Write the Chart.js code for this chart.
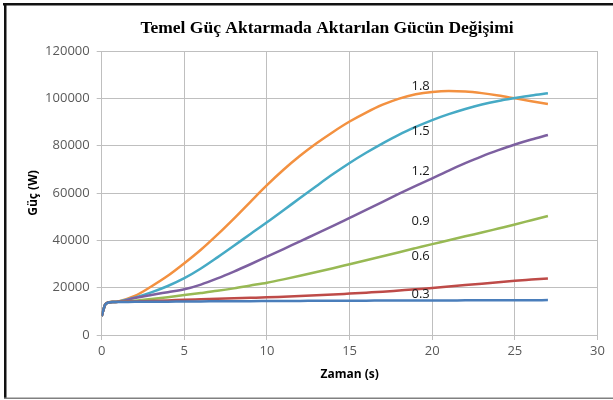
<!DOCTYPE html>
<html>
<head>
<meta charset="utf-8">
<script src="https://cdn.jsdelivr.net/npm/chart.js@4"></script>
<style>
  html, body { margin: 0; padding: 0; background: #fff; }
  #wrap { position: relative; width: 613px; height: 400px; }
</style>
</head>
<body>
<div id="wrap"><canvas id="c"></canvas></div>
<script>
// Chart title
const chartTitle = 'Temel Güç Aktarmada Aktarılan Gücün Değişimi';

// Time (s)
const time = [0, 0.1, 0.2, 0.4, 0.7, 1, 2, 3, 4, 5, 6, 7, 8, 9, 10, 11, 12, 13, 14, 15, 16, 17, 18, 19, 20, 21, 22, 23, 24, 25, 26, 27];

// Power (W) per series
const p03 = [8000, 10500, 12700, 13700, 13900, 13900, 14000, 14050, 14100, 14150, 14200, 14250, 14300, 14300, 14350, 14400, 14400, 14450, 14450, 14500, 14500, 14550, 14550, 14600, 14600, 14600, 14650, 14650, 14700, 14700, 14700, 14750];
const p06 = [8000, 10500, 12700, 13700, 13950, 14000, 14200, 14400, 14600, 14900, 15100, 15300, 15500, 15700, 15900, 16200, 16500, 16800, 17100, 17500, 17900, 18300, 18800, 19300, 19900, 20500, 21100, 21700, 22300, 22900, 23400, 23900];
const p09 = [8000, 10500, 12700, 13700, 13950, 14000, 14500, 15200, 16000, 16900, 17750, 18650, 19700, 20900, 22100, 23500, 25000, 26600, 28200, 29900, 31600, 33300, 35000, 36700, 38400, 40000, 41700, 43300, 45000, 46700, 48500, 50300];
const p12 = [8000, 10500, 12700, 13700, 13950, 14000, 15600, 16900, 18100, 19300, 21300, 23900, 26800, 29900, 33100, 36300, 39600, 42800, 46100, 49500, 52900, 56300, 59700, 63000, 66200, 69500, 72600, 75500, 78100, 80500, 82600, 84500];
const p15 = [8000, 10500, 12700, 13700, 13950, 14100, 15800, 18000, 20700, 24000, 28100, 32800, 37700, 42700, 47600, 52700, 57900, 63000, 68000, 72700, 77000, 81000, 84700, 87900, 90800, 93300, 95500, 97400, 98900, 100100, 101200, 102100];
const p18 = [8000, 10500, 12800, 13800, 14050, 14200, 16500, 20500, 25000, 30300, 36000, 42400, 49200, 56300, 63300, 69800, 75700, 81000, 85800, 90200, 94000, 97300, 99900, 101700, 102700, 103100, 102900, 102200, 101200, 100000, 98800, 97600];

// Series names and their in-plot labels
const seriesNames = ['0.3', '0.6', '0.9', '1.2', '1.5', '1.8'];
const labelTime = [19.3, 19.3, 19.3, 19.3, 19.3, 19.3];
const labelValue = [17300, 33400, 48200, 69300, 86200, 105200];

// Axis ticks
const xTicks = [0, 5, 10, 15, 20, 25, 30];
const yTicks = [0, 20000, 40000, 60000, 80000, 100000, 120000];

const colors = ['#4A7EBB', '#BE4B48', '#98B954', '#7D60A0', '#46AAC5', '#F39140'];
const seriesData = [p03, p06, p09, p12, p15, p18];

const datasets = seriesData.map((arr, i) => ({
  label: seriesNames[i],
  data: time.map((t, k) => ({ x: t, y: arr[k] })),
  borderColor: colors[i],
  backgroundColor: colors[i],
  borderWidth: 2.5,
  pointRadius: 0,
  fill: false,
  cubicInterpolationMode: 'monotone'
}));

const gridColor = '#BFBFBF';
const tickColor = '#595959';
const fontFam = '"Open Sans", "Noto Sans", sans-serif';

const labelsPlugin = {
  id: 'seriesLabels',
  afterDatasetsDraw(chart) {
    const { ctx, scales } = chart;
    ctx.save();
    ctx.font = '13px ' + fontFam;
    ctx.fillStyle = '#1a1a1a';
    ctx.textAlign = 'center';
    ctx.textBaseline = 'middle';
    seriesNames.forEach((name, i) => {
      ctx.fillText(name, scales.x.getPixelForValue(labelTime[i]), scales.y.getPixelForValue(labelValue[i]));
    });
    ctx.restore();
  }
};

const framePlugin = {
  id: 'frame',
  beforeDraw(chart) {
    const { ctx, width, height } = chart;
    ctx.save();
    ctx.fillStyle = '#fff';
    ctx.fillRect(0, 0, width, height);
    ctx.restore();
  },
  afterDraw(chart) {
    const { ctx, width, height } = chart;
    ctx.save();
    // title
    ctx.fillStyle = '#000';
    ctx.font = 'bold 17.5px "Liberation Serif", "DejaVu Serif", serif';
    ctx.textAlign = 'center';
    ctx.textBaseline = 'middle';
    ctx.fillText(chartTitle, 327, 28);
    // frame
    ctx.fillStyle = '#111';
    ctx.fillRect(3, 3, width - 3, 2.5);
    ctx.fillRect(4, 3, 2.5, height - 5);
    ctx.fillStyle = '#808080';
    ctx.fillRect(4, height - 2.5, width - 4, 1.5);
    ctx.restore();
  }
};

new Chart(document.getElementById('c'), {
  type: 'line',
  data: { datasets },
  plugins: [labelsPlugin, framePlugin],
  options: {
    responsive: true,
    maintainAspectRatio: false,
    animation: false,
    layout: { padding: { left: 0, right: 15.5, top: 51, bottom: 0 } },
    plugins: {
      legend: { display: false },
      tooltip: { enabled: false },
      title: { display: false }
    },
    scales: {
      x: {
        type: 'linear',
        min: 0, max: 30,
        afterBuildTicks: s => { s.ticks = xTicks.map(v => ({ value: v })); },
        afterFit: s => { s.height = 65; },
        grid: { color: gridColor, lineWidth: 1, tickLength: 5, drawTicks: true },
        border: { color: gridColor },
        ticks: { color: tickColor, font: { family: fontFam, size: 13 }, padding: 3, maxRotation: 0 },
        title: { display: true, text: 'Zaman (s)', color: '#000', font: { family: fontFam, size: 12, weight: 'bold' }, padding: { top: 0, bottom: 17.8 } }
      },
      y: {
        min: 0, max: 120000,
        afterBuildTicks: s => { s.ticks = yTicks.map(v => ({ value: v })); },
        afterFit: s => { s.width = 101.7; },
        grid: { color: gridColor, lineWidth: 1, tickLength: 5, drawTicks: true },
        border: { color: gridColor },
        ticks: { color: tickColor, font: { family: fontFam, size: 13 }, padding: 7, callback: v => String(v) },
        title: { display: true, text: 'Güç (W)', color: '#000', font: { family: fontFam, size: 12, weight: 'bold' }, padding: { top: 26, bottom: 0 } }
      }
    }
  }
});
</script>
</body>
</html>
